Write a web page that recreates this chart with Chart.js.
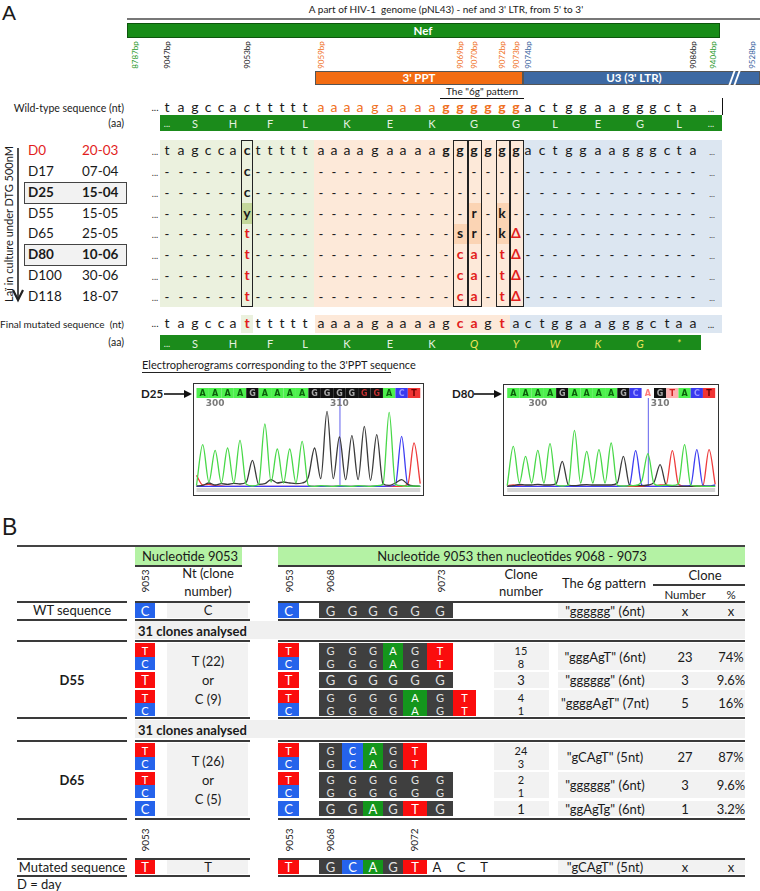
<!DOCTYPE html>
<html><head><meta charset="utf-8">
<script src="https://cdn.jsdelivr.net/npm/chart.js@4/dist/chart.umd.min.js"></script>
<style>
body{margin:0;background:#fff;}
#fig{position:relative;width:760px;height:891px;overflow:hidden;font-family:Lato,'Open Sans',sans-serif;color:#1a1a1a;background:#fff;}
.t{position:absolute;white-space:pre;line-height:1;}
.r{position:absolute;box-sizing:border-box;}
canvas{position:absolute;}
svg{position:absolute;left:0;top:0;}
</style></head><body><div id="fig"></div>
<script>
// ================= DATA =================
// Panel A : genome map
const bpMarks = [8787, 9047, 9053, 9059, 9069, 9070, 9072, 9073, 9074, 9086, 9404, 9528];
const regionNames = ["Nef", "3' PPT", "U3 (3' LTR)"];
// sequences 9047..9086
const firstPos = 9047;
const wtNt = "tagccacttttt aaaagaaaagggggg actggaagggcta".replace(/ /g, "").split("");
const finalNt = "tagccattttttaaaagaaaagcagtactggaagggctaa".split("");
const wtAA = ["S", "H", "F", "L", "K", "E", "K", "G", "G", "L", "E", "G", "L"];
const mutAA = ["S", "H", "F", "L", "K", "E", "K", "Q", "Y", "W", "K", "G", "*"];
const days = ["D0", "D17", "D25", "D55", "D65", "D80", "D100", "D118"];
const dates = ["20-03", "07-04", "15-04", "15-05", "25-05", "10-06", "30-06", "18-07"];
const boxedDays = ["D25", "D80"];
const call9053 = ["c", "c", "c", "y", "t", "t", "t", "t"];
const call9069 = ["g", "-", "-", "-", "s", "c", "c", "c"];
const call9070 = ["g", "-", "-", "r", "r", "a", "a", "a"];
const call9071 = ["g", "-", "-", "-", "-", "-", "-", "-"];
const call9072 = ["g", "-", "-", "k", "k", "t", "t", "t"];
const call9073 = ["g", "-", "-", "-", "Δ", "Δ", "Δ", "Δ"];

// Electropherograms (peak / valley heights, sampled every half base)
const d25Calls = "AAAAGAAAAGGGGGGACT".split("");
const d25Weak = [13, 14];
const d25TickIdx = [1, 11], d25TickLbl = ["300", "310"], d25Cursor = 11;
const d25A = [5,127,15,110,12,117,12,140,8,3,8,189,15,114,12,114,12,137,5,2,4,3,2,4,3,2,4,3,2,4,8,224,8,4,2,3,2];
const d25G = [3,5,12,6,10,8,11,9,14,80,8,10,22,12,15,12,10,12,30,117,25,227,25,150,22,154,22,182,20,157,10,5,12,22,8,3,2];
const d25C = [2,2,2,2,2,2,2,2,2,2,2,2,2,2,2,2,2,2,2,2,2,2,2,2,2,2,2,2,2,2,2,3,6,152,6,2,2];
const d25T = [35,6,8,4,3,2,2,2,2,2,2,2,2,2,2,2,2,2,2,2,2,2,2,2,2,2,2,2,2,2,2,2,2,2,8,132,10];

const d80Calls = "AAAAGAAAAGCAGTACT".split("");
const d80Weak = [13];
const d80Gap = [11];
const d80TickIdx = [2, 12], d80TickLbl = ["300", "310"], d80Cursor = 11;
const d80A = [4,122,12,92,12,110,12,130,6,3,6,170,12,107,12,112,12,132,5,3,4,5,18,100,10,4,6,5,10,127,6,3,2,2,2];
const d80G = [2,4,8,6,6,8,6,6,10,77,6,4,6,7,6,6,6,6,12,92,6,4,4,6,14,67,6,3,2,2,2,3,2,2,2];
const d80C = [2,2,2,2,2,2,2,2,2,2,2,2,2,2,2,2,2,2,2,2,6,109,6,2,2,2,2,2,2,3,5,112,5,3,6];
const d80T = [4,6,4,2,2,2,2,2,2,2,2,2,2,2,2,2,2,2,2,2,2,2,2,2,2,6,8,109,8,2,2,2,4,112,8];

// Panel B
const bGroups = ["D55", "D65"];
const bNtText = [["T (22)", "or", "C (9)"], ["T (26)", "or", "C (5)"]];
const b9053 = [["T","C"], ["T"], ["T","C"], ["T","C"], ["T","C"], ["C"]];
const bSeq = [["GGGAGT","GGGAGT"], ["GGGGGG"], ["GGGGAGT","GGGGAGT"], ["GCAGT","GCAGT"], ["GGGGGG","GGGGGG"], ["GGAGTG"]];
const bClones = [["15","8"], ["3"], ["4","1"], ["24","3"], ["2","1"], ["1"]];
const bPattern = ['"gggAgT" (6nt)', '"gggggg" (6nt)', '"ggggAgT" (7nt)', '"gCAgT" (5nt)', '"gggggg" (6nt)', '"ggAgTg" (6nt)'];
const bNumber = ["23", "3", "5", "27", "3", "1"];
const bPct = ["74%", "9.6%", "16%", "87%", "9.6%", "3.2%"];
const clonesAnalysed = ["31 clones analysed", "31 clones analysed"];
const wtB = { n9053: "C", seq: "GGGGGG", pattern: '"gggggg" (6nt)' };
const mutB = { n9053: "T", seq: "GCAGT", tail: ["A", "C", "T"], pattern: '"gCAgT" (5nt)' };

// ================= LAYOUT HELPERS =================
const W = document.getElementById('fig');
function el(cls) { const d = document.createElement('div'); d.className = cls; W.appendChild(d); return d; }
function T(x, y, s, o = {}) {
  const d = el('t'); d.textContent = s; const st = d.style;
  st.left = x + 'px'; st.top = y + 'px';
  st.fontSize = (o.size || 12) + 'px';
  st.fontWeight = o.bold ? '700' : '400';
  st.fontStyle = o.italic ? 'italic' : 'normal';
  st.color = o.color || '#1a1a1a';
  if (o.font) st.fontFamily = o.font;
  const a = o.align || 'center';
  const tx = a === 'center' ? '-50%' : (a === 'right' ? '-100%' : '0%');
  st.transform = `translate(${tx},-50%)` + (o.rot ? ` rotate(${o.rot}deg)` : '');
  return d;
}
function R(x1, y1, x2, y2, bg, border) {
  const d = el('r');
  Object.assign(d.style, { left: x1 + 'px', top: y1 + 'px', width: (x2 - x1) + 'px', height: (y2 - y1) + 'px', background: bg || 'transparent' });
  if (border) d.style.border = border;
  return d;
}
function HL(x1, x2, y, w, c) { w = w || 2; return R(x1, y - w / 2, x2, y + w / 2, c || '#3a3a3a'); }

// ================= PANEL A =================
const colX = [167,181,195,208,221,233,247,258,270,282,293,305,321,334,347,360,375,390,403,418,432,446,460,474,488,502,516,528,542,555,569,583,598,612,626,640,653,667,679,693];
const cx = p => colX[p - firstPos];
const ORANGE = '#f07022', GREEN_T = '#2a9a2a', BLUE_T = '#3a64a0';
const ppt = [9059, 9073], sixG = [9068, 9073];

T(2, 12, 'A', { size: 21, font: "'Liberation Sans',Arial,sans-serif", align: 'left' });
T(446, 9, "A part of HIV-1  genome (pNL43) - nef and 3' LTR, from 5' to 3'", { size: 10 });
HL(127, 760, 19, 2, '#777');
// genome bars
R(127, 23, 720, 38, '#188c18', '1px solid #0d560d');
T(423, 31, regionNames[0], { size: 11.5, bold: true, color: '#fff' });
R(315, 71, 523, 85, '#f36c12', '1px solid #555');
T(419, 78, regionNames[1], { size: 11.5, bold: true, color: '#fff' });
R(523, 71, 760, 85, '#3d69a3', '1px solid #555');
T(634, 78, regionNames[2], { size: 11.5, bold: true, color: '#fff' });
const brk1 = R(731, 70, 733, 86, '#fff'); brk1.style.transform = 'skewX(-20deg)';
const brk2 = R(736, 70, 738, 86, '#fff'); brk2.style.transform = 'skewX(-20deg)';
const bpExtraX = { 8787: 135, 9404: 713, 9528: 752 };
bpMarks.forEach(p => {
  const x = (p >= firstPos && p < firstPos + colX.length) ? cx(p) : bpExtraX[p];
  let c = '#222';
  if (p === 8787 || p === 9404) c = GREEN_T;
  else if (p >= ppt[0] && p <= ppt[1]) c = ORANGE;
  else if (p === 9074 || p === 9528) c = BLUE_T;
  T(x, 55, p + 'bp', { size: 8, rot: -90, color: c });
});
T(482, 91, 'The "6g" pattern', { size: 10 });
HL(440, 524, 98.5, 1.2, '#111');
R(721.5, 98, 722.7, 115, '#111');

// wild-type row
T(124, 108, 'Wild-type sequence (nt)', { size: 10.5, align: 'right' });
T(124, 123, '(aa)', { size: 10.5, align: 'right' });
T(155, 107, '...', { size: 10 });
T(711, 108, '...', { size: 9 });
wtNt.forEach((ch, i) => {
  const p = firstPos + i;
  const inPPT = p >= ppt[0] && p <= ppt[1];
  T(colX[i], 107, ch, { size: 14, color: inPPT ? ORANGE : '#1a1a1a', bold: p >= sixG[0] && p <= sixG[1], italic: p === 9053 });
});
function aaBar(y1, y2, x2, aas, italicFrom, dots) {
  R(160, y1, x2, y2, '#1b8b1b');
  const yc = (y1 + y2) / 2;
  T(167, yc, '...', { size: 9, color: '#e4f2e0' });
  aas.forEach((a, k) => {
    const mut = k >= italicFrom;
    T(colX[2 + 3 * k], yc, a, { size: 11, color: mut ? '#f0e35a' : '#e4f2e0', italic: mut });
  });
  if (dots) T(711, yc, '...', { size: 9, color: '#e4f2e0' });
}
aaBar(115, 131, 722, wtAA, 99, true);

// alignment block
const rowY = [151, 172, 192.5, 213.5, 234, 255, 276, 297];
const AL_TOP = 140, AL_BOT = 307;
R(160, AL_TOP, 314, AL_BOT, '#ebf1de');
R(314, AL_TOP, 524, AL_BOT, '#fde9d9');
R(524, AL_TOP, 722, AL_BOT, '#dce6f1');
const callsAt = { 9053: call9053, 9069: call9069, 9070: call9070, 9071: call9071, 9072: call9072, 9073: call9073 };
const cellEdge = { 9053: [241, 253], 9069: [453, 467.5], 9070: [467.5, 482], 9071: [482, 495.5], 9072: [495.5, 509.5], 9073: [509.5, 524] };
const ambiguous = ['y', 'r', 'k', 's', 'm', 'w'];
const lastRow = days.length - 1;
days.forEach((d, r) => {
  const y = rowY[r];
  const boxed = boxedDays.includes(d);
  if (boxed) R(24, y - 11, 127, y + 11, '#f2f2f2', '1.5px solid #444');
  const col = r === 0 ? '#e21d1d' : '#1a1a1a';
  T(28, y, d, { size: 13.5, align: 'left', bold: boxed, color: col });
  T(82, y, dates[r], { size: 13.5, align: 'left', bold: boxed, color: col });
  T(155, y, '...', { size: 9, color: '#333' });
  T(712, y + 1, '...', { size: 8, color: '#333' });
  colX.forEach((x, i) => {
    const p = firstPos + i;
    let ch = '-', bold = false, color = '#1a1a1a';
    if (r === 0) { ch = wtNt[i]; bold = p === 9053 || (p >= sixG[0] && p <= sixG[1]); }
    else if (callsAt[p] && callsAt[p][r] !== '-') {
      ch = callsAt[p][r]; bold = true;
      if (ch === callsAt[p][lastRow] && ch !== wtNt[i]) color = '#e21d1d';
      if (ambiguous.includes(ch)) {
        const e = cellEdge[p];
        R(e[0], y - 10.4, e[1], y + 10.4, p === 9053 ? '#c4d79b' : '#fbd4b4');
      }
    }
    T(x, ch === '-' ? y : y - 1, ch, { size: ch === '-' ? 13 : 14, bold, color });
  });
});
[9053, 9069, 9070, 9072, 9073].forEach(p => {
  const e = cellEdge[p];
  R(e[0], AL_TOP, e[1], AL_BOT, 'transparent', '1.5px solid #222');
});
// vertical label
T(8, 224, 'Laï in culture under DTG 500nM', { size: 11, rot: -90 });

// final mutated row
T(124, 324, 'Final mutated sequence  (nt)', { size: 10, align: 'right' });
T(124, 342, '(aa)', { size: 10.5, align: 'right' });
R(241, 315, 253, 333, '#ebf1de');
R(315, 315, 509.5, 333, '#fde9d9');
R(509.5, 315, 722, 333, '#dce6f1');
T(155, 323, '...', { size: 10 });
T(711, 324, '...', { size: 9 });
const redPos = Object.keys(callsAt).map(Number).filter(p => callsAt[p][lastRow] !== '-' && callsAt[p][lastRow] !== 'Δ');
finalNt.forEach((ch, i) => {
  const p = firstPos + i;
  const red = redPos.includes(p);
  T(colX[i], 323, ch, { size: 14, bold: red, color: red ? '#e21d1d' : '#1a1a1a' });
});
aaBar(335, 350, 701, mutAA, 7, false);

// electropherograms
T(142, 364, "Electropherograms corresponding to the 3'PPT sequence", { size: 11, align: 'left' });
HL(142, 391, 372, 1, '#222');
T(141, 394, 'D25', { size: 11.5, bold: true, align: 'left' });
T(452, 394, 'D80', { size: 11.5, bold: true, align: 'left' });
R(193, 383, 424, 496, '#fff', '1.5px solid #333');
R(503, 384, 719, 496, '#fff', '1.5px solid #333');

// ================= CHART.JS ELECTROPHEROGRAMS =================
const traceCol = { A: '#48d848', G: '#3a3a3a', C: '#3c3cf2', T: '#ee3b3b' };
const callBg = { A: '#4ef04e', G: '#111111', C: '#3a3af0', T: '#f03434' };
const callFg = { A: '#0b5e0b', G: '#a8a8a8', C: '#9a9aff', T: '#6a0000' };
const hdrPlugin = {
  id: 'hdr',
  beforeDatasetsDraw(chart, args, o) {
    const ctx = chart.ctx, xs = chart.scales.x, ys = chart.scales.y, ca = chart.chartArea;
    ctx.save();
    ctx.fillStyle = '#d4d4d4';
    ctx.fillRect(xs.getPixelForValue(-0.5), ca.bottom, xs.getPixelForValue(o.calls.length - 0.5) - xs.getPixelForValue(-0.5), 4);
    const cxp = xs.getPixelForValue(o.cursor);
    ctx.strokeStyle = '#7b7bf0'; ctx.lineWidth = 1.2;
    ctx.beginPath(); ctx.moveTo(cxp + 0.5, 12); ctx.lineTo(cxp + 0.5, ys.getPixelForValue(0)); ctx.stroke();
    ctx.restore();
  },
  afterDraw(chart, args, o) {
    const ctx = chart.ctx, xs = chart.scales.x;
    ctx.save();
    ctx.font = 'bold 8px "DejaVu Sans", sans-serif';
    ctx.textAlign = 'center'; ctx.textBaseline = 'middle';
    o.calls.forEach((b, i) => {
      const x1 = xs.getPixelForValue(i - 0.5), x2 = xs.getPixelForValue(i + 0.5);
      let bg = callBg[b], fg = callFg[b];
      if (o.weak.includes(i)) { if (b === 'G') fg = '#c03030'; else { bg = '#ffb0b0'; fg = '#d02020'; } }
      if (o.gap.includes(i)) { bg = '#ffffff'; fg = '#ff7a7a'; }
      ctx.fillStyle = bg; ctx.fillRect(x1, 3, x2 - x1, 10);
      ctx.fillStyle = fg; ctx.fillText(b, (x1 + x2) / 2, 8.5);
    });
    ctx.fillStyle = '#7a7a7a'; ctx.font = 'bold 9px "DejaVu Sans", sans-serif';
    o.tickIdx.forEach((ti, k) => ctx.fillText(o.tickLbl[k], xs.getPixelForValue(ti), 19));
    ctx.restore();
  }
};
function electro(left, top, w, h, xmin, xmax, traces, calls, weak, gap, tickIdx, tickLbl, cursor) {
  const c = document.createElement('canvas');
  c.width = w; c.height = h;
  Object.assign(c.style, { left: left + 'px', top: top + 'px', width: w + 'px', height: h + 'px' });
  W.appendChild(c);
  const n = traces.A.length;
  const xs = Array.from({ length: n }, (_, i) => -0.5 + i * 0.5);
  new Chart(c.getContext('2d'), {
    type: 'line',
    data: {
      datasets: ['A', 'G', 'C', 'T'].map(b => ({
        label: b,
        data: xs.map((x, i) => ({ x, y: traces[b][i] })),
        borderColor: traceCol[b], borderWidth: 1.3, pointRadius: 0,
        cubicInterpolationMode: 'monotone', fill: false
      }))
    },
    options: {
      responsive: false, animation: false, events: [],
      layout: { padding: { top: 20, bottom: 4, left: 0, right: 0 } },
      plugins: { legend: { display: false }, tooltip: { enabled: false },
        hdr: { calls, weak, gap, tickIdx, tickLbl, cursor } },
      scales: {
        x: { type: 'linear', display: false, min: xmin, max: xmax },
        y: { display: false, min: -3, max: 246 }
      }
    },
    plugins: [hdrPlugin]
  });
}
electro(195, 385, 227, 107, -0.62, 17.64, { A: d25A, G: d25G, C: d25C, T: d25T }, d25Calls, d25Weak, [], d25TickIdx, d25TickLbl, d25Cursor);
electro(505, 385, 212, 107, -0.68, 16.65, { A: d80A, G: d80G, C: d80C, T: d80T }, d80Calls, d80Weak, d80Gap, d80TickIdx, d80TickLbl, d80Cursor);

// ================= PANEL B =================
const NT_BG = { T: '#fb0d0d', C: '#2563eb', A: '#14961c', G: '#3f3f3f' };
const NT_FG = { T: '#fff', C: '#fff', A: '#fff', G: '#e2e2e2' };
const GRAY = '#f2f2f2';
const colB = [319, 342, 363, 383, 403, 427, 453, 476];
const FS = 13;
const FS2 = 11;
T(2, 527, 'B', { size: 23, font: "'Liberation Sans',Arial,sans-serif", align: 'left' });
HL(17, 745, 546, 2, '#444');
R(135, 547, 242, 565, '#b4f2a4');
T(190, 556, 'Nucleotide 9053', { size: FS });
R(278, 547, 745, 565, '#b4f2a4');
T(512, 556, 'Nucleotide 9053 then nucleotides 9068 - 9073', { size: FS });
HL(135, 242, 565.5, 2); HL(278, 745, 565.5, 2);
T(145, 581, '9053', { size: 10, rot: -90 });
T(208, 573, 'Nt (clone', { size: FS }); T(208, 591, 'number)', { size: FS });
T(289, 581, '9053', { size: 10, rot: -90 });
T(330, 581, '9068', { size: 10, rot: -90 });
T(441, 581, '9073', { size: 10, rot: -90 });
T(521, 574, 'Clone', { size: FS }); T(521, 591, 'number', { size: FS });
T(604, 583, 'The 6g pattern', { size: FS });
T(705, 575, 'Clone', { size: FS });
HL(653, 745, 585, 1.5);
T(685, 595, 'Number', { size: 11.5 }); T(731, 595, '%', { size: 11.5 });

function rowLines(y) { HL(17, 127, y, 2); HL(135, 250, y, 2); HL(278, 745, y, 2); }
function ntStack(x1, x2, y1, y2, letters) {
  const h = (y2 - y1) / letters.length;
  letters.forEach((l, j) => {
    R(x1, y1 + j * h, x2, y1 + (j + 1) * h, NT_BG[l]);
    T((x1 + x2) / 2, y1 + (j + 0.5) * h, l, { size: letters.length > 1 ? FS2 : FS, color: NT_FG[l] });
  });
}
function seqCells(y1, y2, seqs) {
  const h = (y2 - y1) / seqs.length;
  seqs.forEach((s, j) => {
    s.split('').forEach((l, c) => {
      R(colB[c], y1 + j * h, colB[c + 1], y1 + (j + 1) * h, NT_BG[l]);
      T((colB[c] + colB[c + 1]) / 2, y1 + (j + 0.5) * h, l, { size: seqs.length > 1 ? FS2 : FS, color: NT_FG[l] });
    });
  });
}
function tailCells(y1, y2, pattern, num, pct) {
  const ym = (y1 + y2) / 2;
  R(558, y1, 745, y2, GRAY);
  T(605, ym, pattern, { size: FS });
  T(685, ym, num, { size: FS });
  T(731, ym, pct, { size: FS });
}
// WT
rowLines(601.5);
T(72, 610, 'WT sequence', { size: FS });
ntStack(135, 155, 603, 618, [wtB.n9053]);
R(167, 603, 248, 618, GRAY); T(208, 610, wtB.n9053, { size: FS });
ntStack(278, 299, 603, 618, [wtB.n9053]);
R(colB[0], 603, colB[wtB.seq.length], 618, NT_BG.G);
seqCells(603, 618, [wtB.seq]);
tailCells(603, 618, wtB.pattern, 'x', 'x');
rowLines(619.5);

const subRowY = [[643, 670], [672, 688], [690, 716], [743, 770], [772, 798], [801, 816]];
const blockTop = [641, 741], blockBot = [717.5, 818.5];
bGroups.forEach((g, gi) => {
  const bandTop = gi === 0 ? 621 : 720;
  R(135, bandTop, 745, bandTop + 18, '#f0f0f0');
  T(138, bandTop + 9.5, clonesAnalysed[gi], { size: FS, bold: true, align: 'left' });
  rowLines(blockTop[gi]);
  const y1 = subRowY[gi * 3][0], y2 = subRowY[gi * 3 + 2][1];
  T(72, (y1 + y2) / 2, g, { size: FS, bold: true });
  R(167, y1, 248, y2, GRAY);
  bNtText[gi].forEach((s, k) => T(208, (y1 + y2) / 2 + (k - 1) * 19, s, { size: FS }));
  for (let k = gi * 3; k < gi * 3 + 3; k++) {
    const [a, b] = subRowY[k];
    ntStack(135, 155, a, b, b9053[k]);
    ntStack(278, 299, a, b, b9053[k]);
    seqCells(a, b, bSeq[k]);
    R(494, a, 549, b, GRAY);
    const h = (b - a) / bClones[k].length;
    bClones[k].forEach((c, j) => T(521, a + (j + 0.5) * h, c, { size: bClones[k].length > 1 ? FS2 : FS }));
    tailCells(a, b, bPattern[k], bNumber[k], bPct[k]);
  }
  rowLines(blockBot[gi]);
});
// bottom position labels
T(145, 840, '9053', { size: 10, rot: -90 });
T(289, 840, '9053', { size: 10, rot: -90 });
T(330, 840, '9068', { size: 10, rot: -90 });
T(414, 840, '9072', { size: 10, rot: -90 });
rowLines(858.5);
T(72, 867, 'Mutated sequence', { size: FS });
ntStack(135, 155, 860, 874, [mutB.n9053]);
R(167, 860, 248, 874, GRAY); T(208, 867, mutB.n9053, { size: FS });
ntStack(278, 299, 860, 874, [mutB.n9053]);
seqCells(860, 874, [mutB.seq]);
[437, 461, 484].forEach((x, k) => T(x, 867, mutB.tail[k], { size: FS }));
tailCells(860, 874, mutB.pattern, 'x', 'x');
rowLines(875.5);
T(17, 884, 'D = day', { size: FS, align: 'left' });

// arrows (svg overlay)
const svgNS = 'http://www.w3.org/2000/svg';
const svg = document.createElementNS(svgNS, 'svg');
svg.setAttribute('width', 760); svg.setAttribute('height', 891);
svg.innerHTML =
  '<line x1="18" y1="148" x2="18" y2="298" stroke="#222" stroke-width="1.6"/>' +
  '<polyline points="13,290 18,300 23,290" fill="none" stroke="#222" stroke-width="2.2"/>' +
  '<line x1="164" y1="394" x2="186" y2="394" stroke="#111" stroke-width="1.6"/>' +
  '<polygon points="184,390 192,394 184,398" fill="#111"/>' +
  '<line x1="474" y1="394" x2="496" y2="394" stroke="#111" stroke-width="1.6"/>' +
  '<polygon points="494,390 502,394 494,398" fill="#111"/>';
W.appendChild(svg);
</script></body></html>
